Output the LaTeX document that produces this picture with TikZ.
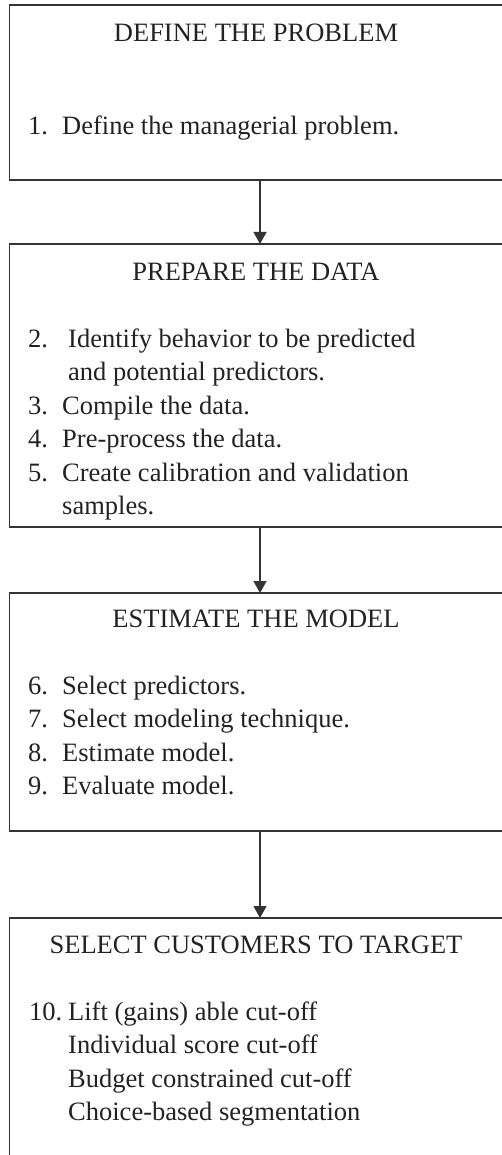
\documentclass[tikz,border=0pt]{standalone}
\usepackage{fontspec}
\setmainfont{Liberation Serif}
\usepackage{tikz}
\usetikzlibrary{arrows.meta,positioning}
\usepackage{xcolor}
\definecolor{StageLine}{HTML}{333333}
\definecolor{StageInk}{HTML}{222222}

\begin{document}
\begin{tikzpicture}[x=1pt,y=-1pt,
    stagebox/.style={draw=StageLine,line width=1.3pt,anchor=north west,
      minimum width=493.5pt,inner sep=0pt,outer sep=0pt},
    headtext/.style={anchor=base,inner sep=0pt,text=StageInk,
      font=\fontsize{26.5}{33.5}\selectfont},
    listtext/.style={anchor=base west,inner sep=0pt,text=StageInk,
      font=\fontsize{26.5}{33.5}\selectfont},
    flowarrow/.style={line width=1.3pt,StageLine,
      -{Triangle[length=12pt,width=13pt]}}]
  \clip (0,0) rectangle (502,1155);
  \coordinate (spine) at (260,0);
  % stage boxes
  \node[stagebox,minimum height=175pt] (define) at (9.5,5) {};
  \node[stagebox,minimum height=283pt] (prepare) at (9.5,244) {};
  \node[stagebox,minimum height=238pt] (estimate) at (9.5,593) {};
  \node[stagebox,minimum height=280pt] (select) at (9.5,918) {};
  % headings
  \node[headtext] (defineHead) at (256,42) {DEFINE THE PROBLEM};
  \node[headtext] (prepareHead) at (256,280) {PREPARE THE DATA};
  \node[headtext] (estimateHead) at (256,627) {ESTIMATE THE MODEL};
  \node[headtext] (selectHead) at (256,953) {SELECT CUSTOMERS TO TARGET};
  % steps
  \node[listtext] (defineList) at (28,135) {\begin{tabular}[t]{@{}l@{}}
    \makebox[34pt][l]{1.}Define the managerial problem.
  \end{tabular}};
  \node[listtext] (prepareList) at (28,347) {\begin{tabular}[t]{@{}l@{}}
    \makebox[40pt][l]{2.}Identify behavior to be predicted\\
    \hspace*{40pt}and potential predictors.\\
    \makebox[34pt][l]{3.}Compile the data.\\
    \makebox[34pt][l]{4.}Pre-process the data.\\
    \makebox[34pt][l]{5.}Create calibration and validation\\
    \hspace*{34pt}samples.
  \end{tabular}};
  \node[listtext] (estimateList) at (28,694) {\begin{tabular}[t]{@{}l@{}}
    \makebox[34pt][l]{6.}Select predictors.\\
    \makebox[34pt][l]{7.}Select modeling technique.\\
    \makebox[34pt][l]{8.}Estimate model.\\
    \makebox[34pt][l]{9.}Evaluate model.
  \end{tabular}};
  \node[listtext] (selectList) at (29,1020) {\begin{tabular}[t]{@{}l@{}}
    \makebox[39pt][l]{10.}Lift (gains) able cut-off\\
    \hspace*{39pt}Individual score cut-off\\
    \hspace*{39pt}Budget constrained cut-off\\
    \hspace*{39pt}Choice-based segmentation
  \end{tabular}};
  % flow
  \draw[flowarrow] (define.south -| spine) -- (prepare.north -| spine);
  \draw[flowarrow] (prepare.south -| spine) -- (estimate.north -| spine);
  \draw[flowarrow] (estimate.south -| spine) -- (select.north -| spine);
\end{tikzpicture}
\end{document}
